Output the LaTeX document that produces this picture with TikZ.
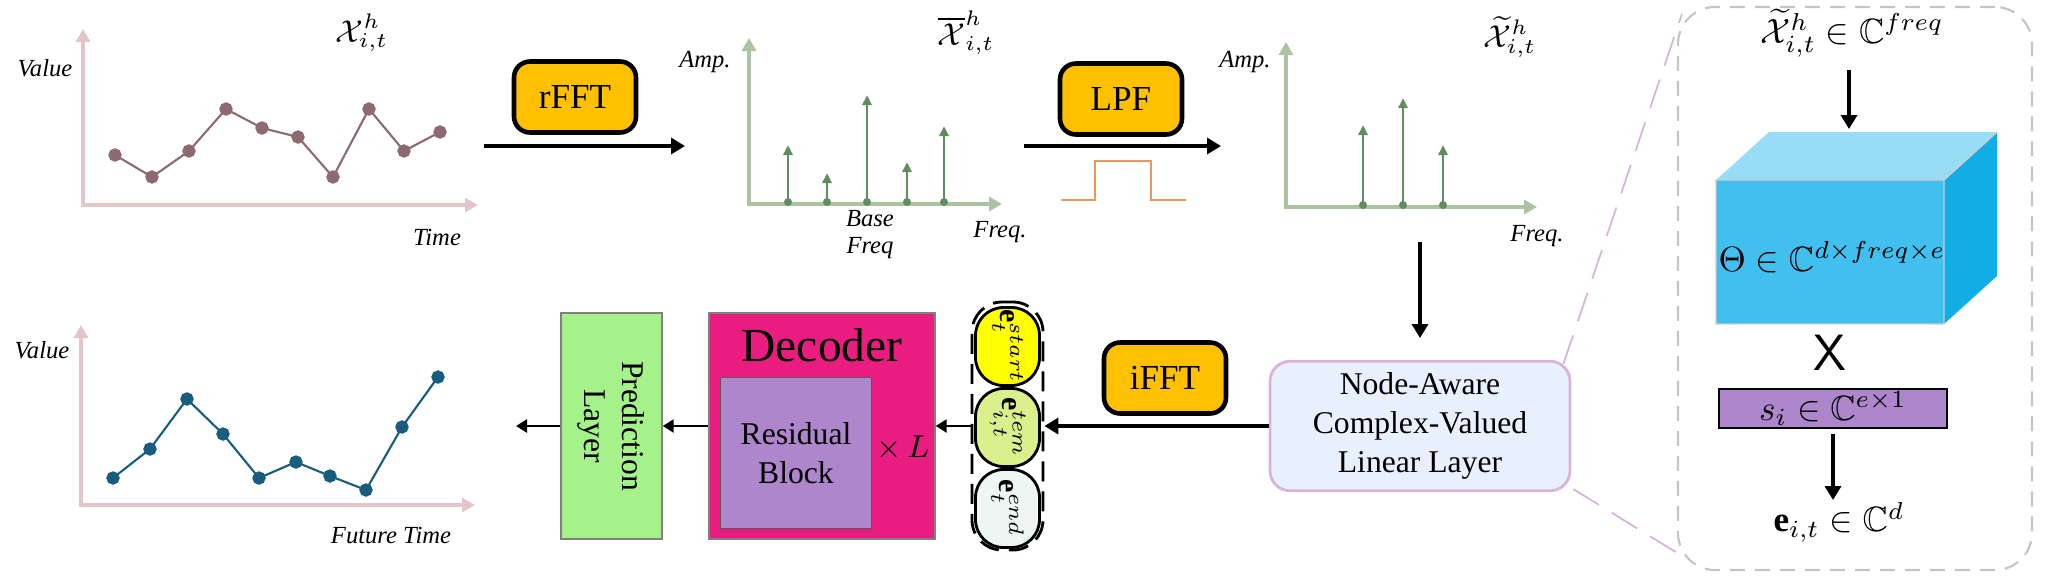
\documentclass[tikz,border=0pt]{standalone}
\usepackage{fontspec}
\setmainfont{Liberation Serif}
\usepackage{amsmath,amssymb}
\usetikzlibrary{arrows.meta}

\definecolor{fftyellow}{RGB}{255,192,0}
\definecolor{histpink}{RGB}{226,198,202}
\definecolor{histbrown}{RGB}{140,106,112}
\definecolor{specaxis}{RGB}{172,194,160}
\definecolor{spikegreen}{RGB}{96,140,96}
\definecolor{pulseorange}{RGB}{236,150,90}
\definecolor{futureblue}{RGB}{24,92,126}
\definecolor{nodeblue}{RGB}{232,240,253}
\definecolor{nodeedge}{RGB}{216,180,218}
\definecolor{decpink}{RGB}{233,28,128}
\definecolor{resviolet}{RGB}{174,134,204}
\definecolor{predgreen}{RGB}{166,242,138}
\definecolor{estartc}{RGB}{255,255,0}
\definecolor{etemc}{RGB}{218,240,140}
\definecolor{eendc}{RGB}{238,246,244}
\definecolor{cubefront}{RGB}{65,191,239}
\definecolor{cubetop}{RGB}{151,221,246}
\definecolor{cuberight}{RGB}{16,173,230}
\definecolor{panelgray}{RGB}{196,196,196}
\definecolor{zoompink}{RGB}{215,178,218}

\begin{document}
\begin{tikzpicture}[x=0.1mm, y=-0.1mm,
    fftbox/.style={draw, line width=1.3pt, fill=fftyellow, rounded corners=1.6mm,
                   minimum width=12.2mm, minimum height=7.1mm, font=\fontsize{10}{12}\selectfont},
    flow/.style={line width=1.2pt, -{Triangle[length=1.4mm,width=1.6mm]}},
    thinflow/.style={line width=0.7pt, -{Triangle[length=1.1mm,width=1.3mm]}},
    plotaxis/.style={line width=1.4pt, {Triangle[length=1.3mm,width=1.4mm]}-{Triangle[length=1.3mm,width=1.4mm]}},
    axlabel/.style={font=\fontsize{7}{7.7}\selectfont\itshape, align=center},
    title/.style={font=\fontsize{9}{11}\selectfont},
    spike/.style={spikegreen, line width=0.8pt, -{Triangle[length=1mm,width=0.9mm]}},
    ebox/.style={draw, line width=0.8pt, rounded corners=2.8mm, rotate=-90,
                 minimum width=7.8mm, minimum height=6.4mm, inner sep=0pt, font=\fontsize{8.5}{10}\selectfont},
    panelmath/.style={font=\fontsize{10}{12}\selectfont},
  ]
  \useasboundingbox (0,0) rectangle (2070,576);

  % input series
  \draw[plotaxis, histpink] (83,29) |- (478,205);
  \draw[histbrown, line width=0.6pt] plot[mark=*, mark size=1.6pt] coordinates
    {(115,155) (152,177) (189,151) (226,109) (262,128) (298,137) (333,177) (369,109) (404,151) (440,132)};
  \node[axlabel] (val1) at (45,68) {Value};
  \node[axlabel] (time1) at (437,237) {Time};
  \node[title] (xin) at (362,33) {$\mathcal{X}^h_{i,t}$};

  \node[fftbox] (rfft) at (575,97) {rFFT};
  \coordinate (rfftS) at (484,146);
  \coordinate (rfftE) at (685,146);
  \draw[flow] (rfftS) -- (rfftE);

  % spectrum
  \draw[plotaxis, specaxis] (749,38) |- (1002,204);
  \foreach \sx/\sy in {788/145, 827/173, 867/95, 907/162, 944/126} {
    \draw[spike] (\sx,204) -- (\sx,\sy);
    \fill[spikegreen] (\sx,202) circle (0.4mm);
  }
  \node[axlabel] (amp1) at (705,62) {Amp.};
  \node[axlabel] (base) at (870,235) {Base\\Freq};
  \node[axlabel] (freq1) at (1000,232) {Freq.};
  \node[title] (xbar) at (966,33) {$\overline{\mathcal{X}}^h_{i,t}$};

  \node[fftbox] (lpf) at (1121,99) {LPF};
  \coordinate (lpfS) at (1024,146);
  \coordinate (lpfE) at (1221,146);
  \draw[flow] (lpfS) -- (lpfE);
  \draw[pulseorange, line width=0.6pt] (1061,200) -- (1095,200) -- (1095,161) -- (1151,161) -- (1151,200) -- (1186,200);

  % filtered spectrum
  \draw[plotaxis, specaxis] (1286,42) |- (1537,207);
  \foreach \sx/\sy in {1363/125, 1403/98, 1443/145} {
    \draw[spike] (\sx,207) -- (\sx,\sy);
    \fill[spikegreen] (\sx,205) circle (0.4mm);
  }
  \node[axlabel] (amp2) at (1245,62) {Amp.};
  \node[axlabel] (freq2) at (1537,236) {Freq.};
  \node[title] (xtil) at (1510,37) {$\widetilde{\mathcal{X}}^h_{i,t}$};

  \coordinate (downS) at (1420,242);
  \coordinate (downE) at (1420,338);
  \draw[flow] (downS) -- (downE);

  % lower row
  \node[draw=nodeedge, line width=0.8pt, fill=nodeblue, rounded corners=2mm,
        minimum width=30mm, minimum height=12.6mm, align=center,
        font=\fontsize{9}{11}\selectfont] (nacl) at (1420,426) {Node-Aware\\Complex-Valued\\Linear Layer};
  \node[fftbox] (ifft) at (1165,378) {iFFT};

  \node[draw, dashed, line width=0.8pt, dash pattern=on 2mm off 1mm, rounded corners=3mm,
        minimum width=7.1mm, minimum height=24.8mm] (ewrap) at (1007.5,426) {};
  \node[ebox, fill=estartc] (estart) at (1007.5,346.5) {$\mathbf{e}^{start}_t$};
  \node[ebox, fill=etemc] (etem) at (1007.5,427.5) {$\mathbf{e}^{tem}_{i,t}$};
  \node[ebox, fill=eendc] (eend) at (1007.5,508.5) {$\mathbf{e}^{end}_t$};
  \draw[flow] (nacl.west) -- (ewrap.east);

  \node[draw=gray, fill=decpink, minimum width=22.6mm, minimum height=22.6mm] (dec) at (822,426) {};
  \node[font=\fontsize{13.5}{15}\selectfont] (dectext) at (822,345) {Decoder};
  \node[draw=gray!70!black, fill=resviolet, minimum width=15.1mm, minimum height=15.1mm,
        align=center, font=\fontsize{9}{11}\selectfont] (res) at (796,453) {Residual\\Block};
  \node[font=\fontsize{9}{11}\selectfont] (times) at (903,448) {$\times\,L$};
  \draw[thinflow] (ewrap.west) -- (dec.east);

  \node[draw=gray, fill=predgreen, minimum width=10.1mm, minimum height=22.6mm] (pred) at (611.5,426) {};
  \node[rotate=-90, align=center, font=\fontsize{9}{10.8}\selectfont] (predtext) at (pred) {Prediction\\Layer};
  \draw[thinflow] (dec.west) -- (pred.east);
  \coordinate (outE) at (516,426);
  \draw[thinflow] (pred.west) -- (outE);

  % forecast series
  \draw[plotaxis, histpink] (81,325) |- (475,505);
  \draw[futureblue, line width=0.6pt] plot[mark=*, mark size=1.6pt] coordinates
    {(113,478) (150,449) (187,399) (223,434) (259,478) (296,462) (330,476) (366,490) (402,427) (438,377)};
  \node[axlabel] (val2) at (42,350) {Value};
  \node[axlabel] (time2) at (391,535) {Future Time};

  % zoomed panel
  \node[draw=panelgray, dashed, dash pattern=on 1.5mm off 1mm, line width=0.6pt, rounded corners=3.7mm,
        minimum width=35.4mm, minimum height=56.3mm] (panel) at (1855,288.5) {};
  \draw[zoompink, line width=0.5pt, dash pattern=on 3mm off 1.5mm]
    ([shift={(-8,4)}]nacl.north east) -- ([shift={(5,8)}]panel.north west);
  \draw[zoompink, line width=0.5pt, dash pattern=on 3mm off 1.5mm]
    ([shift={(2,-3)}]nacl.south east) -- ([shift={(2,-17)}]panel.south west);

  \node[panelmath] (ptitle) at (1852,33) {$\widetilde{\mathcal{X}}^h_{i,t}\in\mathbb{C}^{freq}$};
  \coordinate (cubeIn) at (1849,129);
  \draw[flow] (ptitle.south -| cubeIn) -- (cubeIn);
  \fill[cubefront] (1716,180) rectangle (1944,324);
  \fill[cubetop] (1716,180) -- (1769,132) -- (1997,132) -- (1944,180) -- cycle;
  \fill[cuberight] (1944,180) -- (1997,132) -- (1997,276) -- (1944,324) -- cycle;
  \draw[gray!40, line width=0.4pt] (1716,180) rectangle (1944,324) (1944,180) -- (1997,132);
  \node[panelmath] (theta) at (1832,257) {$\Theta\in\mathbb{C}^{d\times freq\times e}$};
  \node[font=\fontsize{14.5}{15}\selectfont\sffamily] (mult) at (1830,353) {X};
  \node[draw, line width=0.6pt, fill=resviolet, minimum width=22.8mm, minimum height=3.9mm,
        inner sep=0pt, panelmath] (svec) at (1833,408.5) {$s_i\in\mathbb{C}^{e\times 1}$};
  \coordinate (eOut) at (1833,500);
  \draw[flow] (svec.south) ++(0,5) -- (eOut);
  \node[panelmath] (eit) at (1839,522) {$\mathbf{e}_{i,t}\in\mathbb{C}^{d}$};
\end{tikzpicture}
\end{document}
